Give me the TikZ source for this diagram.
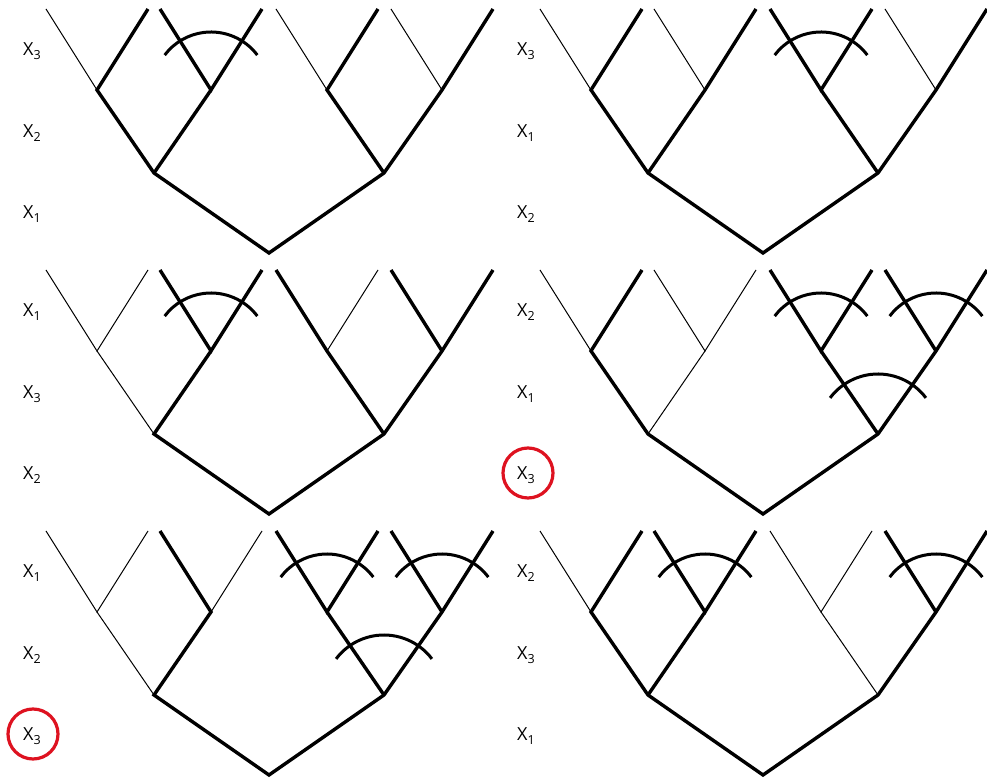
\documentclass[tikz,border=0pt]{standalone}
\usepackage{fontspec}
\setmainfont{Open Sans}
\definecolor{circred}{RGB}{222,18,32}
% #1 prefix, #2 root x (px), #3 row offset (px, from top)
\newcommand\mktree[3]{%
  \coordinate (#1R)   at ({#2},     {778-#3-253});
  \coordinate (#1A)   at ({#2-115}, {778-#3-173});
  \coordinate (#1B)   at ({#2+115}, {778-#3-173});
  \coordinate (#1AA)  at ({#2-172}, {778-#3-90});
  \coordinate (#1AB)  at ({#2-58},  {778-#3-90});
  \coordinate (#1BA)  at ({#2+58},  {778-#3-90});
  \coordinate (#1BB)  at ({#2+173}, {778-#3-90});
  \coordinate (#1AAA) at ({#2-223}, {778-#3-9});
  \coordinate (#1AAB) at ({#2-121}, {778-#3-9});
  \coordinate (#1ABA) at ({#2-109}, {778-#3-9});
  \coordinate (#1ABB) at ({#2-7},   {778-#3-9});
  \coordinate (#1BAA) at ({#2+7},   {778-#3-9});
  \coordinate (#1BAB) at ({#2+109}, {778-#3-9});
  \coordinate (#1BBA) at ({#2+122}, {778-#3-9});
  \coordinate (#1BBB) at ({#2+224}, {778-#3-9});
}
\newcommand\xlab[1]{X\raisebox{-3.6pt}{\fontsize{12.5}{12.5}\selectfont #1}}
\newcommand\arcat[2]{\draw[arcs] ([shift={(37:#2)}]#1) arc[start angle=37, end angle=143, radius=#2];}
\begin{document}
\begin{tikzpicture}[x=1pt,y=1pt,
  thk/.style={line width=3.4pt, line join=miter},
  thn/.style={line width=1pt},
  arcs/.style={line width=3pt},
  lab/.style={anchor=base west, inner sep=0pt, font=\fontsize{18}{18}\selectfont},
  ring/.style={draw=circred, line width=3.2pt, circle, minimum size=50pt, inner sep=0pt}]
\useasboundingbox (0,0) rectangle (987,778);

\mktree{a}{269}{0}
\mktree{b}{763}{0}
\mktree{c}{269}{261}
\mktree{d}{763}{261}
\mktree{e}{269}{522}
\mktree{f}{763}{522}

% ---- panel a (top left)
\draw[thk] (aAAB) -- (aAA) -- (aA) -- (aR) -- (aB) -- (aBB) -- (aBBB);
\draw[thk] (aA) -- (aAB);
\draw[thk] (aABA) -- (aAB) -- (aABB);
\draw[thk] (aBAB) -- (aBA) -- (aB);
\draw[thn] (aAA) -- (aAAA);
\draw[thn] (aBA) -- (aBAA);
\draw[thn] (aBB) -- (aBBA);
\arcat{aAB}{58}
\node[lab] (a1) at (23,{778-56}) {\xlab{3}};
\node[lab] (a2) at (23,{778-138}) {\xlab{2}};
\node[lab] (a3) at (23,{778-219}) {\xlab{1}};

% ---- panel b (top right)
\draw[thk] (bAAB) -- (bAA) -- (bA) -- (bR) -- (bB) -- (bBB) -- (bBBB);
\draw[thk] (bABB) -- (bAB) -- (bA);
\draw[thk] (bBAA) -- (bBA) -- (bBAB);
\draw[thk] (bB) -- (bBA);
\draw[thn] (bAA) -- (bAAA);
\draw[thn] (bAB) -- (bABA);
\draw[thn] (bBB) -- (bBBA);
\arcat{bBA}{58}
\node[lab] (b1) at (517,{778-56}) {\xlab{3}};
\node[lab] (b2) at (517,{778-138}) {\xlab{1}};
\node[lab] (b3) at (517,{778-219}) {\xlab{2}};

% ---- panel c (middle left)
\draw[thk] (cABA) -- (cAB) -- (cABB);
\draw[thk] (cAB) -- (cA) -- (cR) -- (cB) -- (cBB) -- (cBBB);
\draw[thk] (cBBA) -- (cBB);
\draw[thk] (cBAA) -- (cBA) -- (cB);
\draw[thn] (cA) -- (cAA);
\draw[thn] (cAAA) -- (cAA) -- (cAAB);
\draw[thn] (cBA) -- (cBAB);
\arcat{cAB}{58}
\node[lab] (c1) at (23,{778-261-56}) {\xlab{1}};
\node[lab] (c2) at (23,{778-261-138}) {\xlab{3}};
\node[lab] (c3) at (23,{778-261-219}) {\xlab{2}};

% ---- panel d (middle right)
\draw[thk] (dAAB) -- (dAA) -- (dA) -- (dR) -- (dB) -- (dBB) -- (dBBB);
\draw[thk] (dBBA) -- (dBB);
\draw[thk] (dBAA) -- (dBA) -- (dBAB);
\draw[thk] (dB) -- (dBA);
\draw[thn] (dAA) -- (dAAA);
\draw[thn] (dA) -- (dAB);
\draw[thn] (dABA) -- (dAB) -- (dABB);
\arcat{dB}{60}
\arcat{dBA}{58}
\arcat{dBB}{58}
\node[lab] (d1) at (517,{778-261-56}) {\xlab{2}};
\node[lab] (d2) at (517,{778-261-138}) {\xlab{1}};
\node[lab] (d3) at (517,{778-261-219}) {\xlab{3}};
\node[ring] (d3r) at (528,{778-261-212}) {};

% ---- panel e (bottom left)
\draw[thk] (eABA) -- (eAB) -- (eA) -- (eR) -- (eB) -- (eBB) -- (eBBB);
\draw[thk] (eBBA) -- (eBB);
\draw[thk] (eBAA) -- (eBA) -- (eBAB);
\draw[thk] (eB) -- (eBA);
\draw[thn] (eA) -- (eAA);
\draw[thn] (eAAA) -- (eAA) -- (eAAB);
\draw[thn] (eAB) -- (eABB);
\arcat{eB}{60}
\arcat{eBA}{58}
\arcat{eBB}{58}
\node[lab] (e1) at (23,{778-522-56}) {\xlab{1}};
\node[lab] (e2) at (23,{778-522-138}) {\xlab{2}};
\node[lab] (e3) at (23,{778-522-219}) {\xlab{3}};
\node[ring] (e3r) at (33,{778-522-212}) {};

% ---- panel f (bottom right)
\draw[thk] (fAAB) -- (fAA) -- (fA) -- (fR) -- (fB) -- (fBB) -- (fBBB);
\draw[thk] (fBBA) -- (fBB);
\draw[thk] (fABA) -- (fAB) -- (fABB);
\draw[thk] (fA) -- (fAB);
\draw[thn] (fAA) -- (fAAA);
\draw[thn] (fB) -- (fBA);
\draw[thn] (fBAA) -- (fBA) -- (fBAB);
\arcat{fAB}{58}
\arcat{fBB}{58}
\node[lab] (f1) at (517,{778-522-56}) {\xlab{2}};
\node[lab] (f2) at (517,{778-522-138}) {\xlab{3}};
\node[lab] (f3) at (517,{778-522-219}) {\xlab{1}};
\end{tikzpicture}
\end{document}
